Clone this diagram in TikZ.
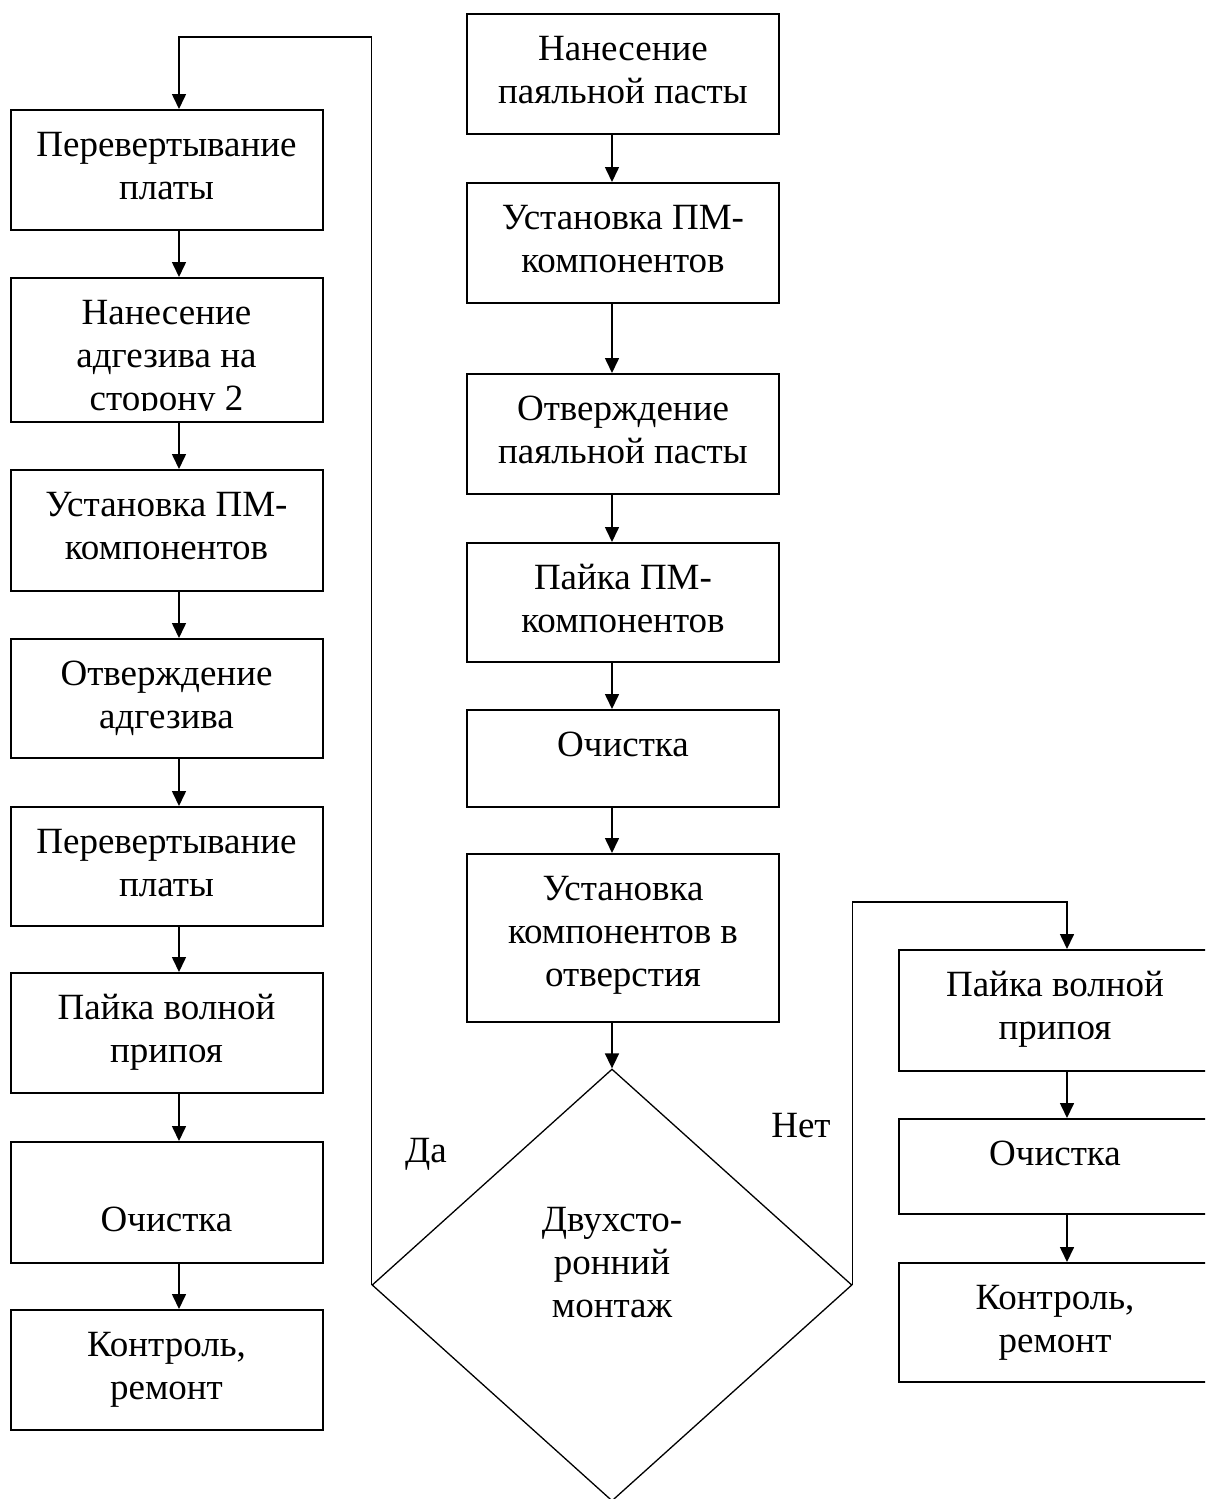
\documentclass[tikz,border=0pt]{standalone}
\usepackage{fontspec}
\setmainfont{Liberation Serif}
\usetikzlibrary{arrows.meta,shapes.geometric}

\newcommand{\blok}[2]{\parbox[c][#1pt][t]{312pt}{\centering\rule{0pt}{46pt}#2}}

\tikzset{
  blok/.style={draw, line width=2pt, inner sep=0pt, anchor=north},
  arr/.style={line width=1.6pt, -{Triangle[length=15pt,width=14pt]}},
  romb/.style={draw, diamond, line width=1.3pt, minimum width=480pt, minimum height=432pt, inner sep=0pt},
}

\begin{document}
\begin{tikzpicture}[x=1pt,y=-1pt,font=\fontsize{37}{43}\selectfont]
\useasboundingbox (0,0) rectangle (1205,1499);
\clip (0,0) rectangle (1205,1499);

\node[blok] (ln1) at (166.5,109) {\blok{120}{Перевертывание\\платы}};
\node[blok] (ln2) at (166.5,277) {\blok{144}{Нанесение\\адгезива на\\сторону 2}};
\fill[white] ([shift={(3,-12)}]ln2.south west) rectangle ([shift={(-3,-2)}]ln2.south east);
\node[blok] (ln3) at (166.5,469) {\blok{121}{Установка ПМ-\\компонентов}};
\node[blok] (ln4) at (166.5,638) {\blok{119}{Отверждение\\адгезива}};
\node[blok] (ln5) at (166.5,806) {\blok{119}{Перевертывание\\платы}};
\node[blok] (ln6) at (166.5,972) {\blok{120}{Пайка волной\\припоя}};
\node[blok] (ln7) at (166.5,1141) {\blok{121}{\\Очистка}};
\node[blok] (ln8) at (166.5,1309) {\blok{120}{Контроль,\\ремонт}};

\node[blok] (mn1) at (623,13) {\blok{120}{Нанесение\\паяльной пасты}};
\node[blok] (mn2) at (623,182) {\blok{120}{Установка ПМ-\\компонентов}};
\node[blok] (mn3) at (623,373) {\blok{120}{Отверждение\\паяльной пасты}};
\node[blok] (mn4) at (623,542) {\blok{119}{Пайка ПМ-\\компонентов}};
\node[blok] (mn5) at (623,709) {\blok{97}{Очистка}};
\node[blok] (mn6) at (623,853) {\blok{168}{Установка\\компонентов в\\отверстия}};

\node[romb] (dvuh) at (612,1285) {};
\node[align=center, anchor=north, inner sep=0pt] (dvuhtxt) at (612,1207) {Двухсто-\\ронний\\монтаж};

\node[blok] (rn1) at (1055,949) {\blok{121}{Пайка волной\\припоя}};
\node[blok] (rn2) at (1055,1118) {\blok{95}{Очистка}};
\node[blok] (rn3) at (1055,1262) {\blok{119}{Контроль,\\ремонт}};

\node[anchor=base] (da) at (426,1162) {Да};
\node[anchor=base] (net) at (801,1137) {Нет};

\coordinate (colL) at (179,0);
\coordinate (colM) at (612,0);
\coordinate (colR) at (1067,0);
\coordinate (daTop) at (179,37);
\coordinate (netTop) at (1067,902);

\foreach \a/\b in {ln1/ln2,ln2/ln3,ln3/ln4,ln4/ln5,ln5/ln6,ln6/ln7,ln7/ln8} {
	\draw[arr] (\a.south -| colL) -- (\b.north -| colL);
}
\foreach \a/\b in {mn1/mn2,mn2/mn3,mn3/mn4,mn4/mn5,mn5/mn6} {
	\draw[arr] (\a.south -| colM) -- (\b.north -| colM);
}
\draw[arr] (mn6.south -| colM) -- (dvuh.north);
\foreach \a/\b in {rn1/rn2,rn2/rn3} {
	\draw[arr] (\a.south -| colR) -- (\b.north -| colR);
}

\draw[arr] (dvuh.west) |- (daTop) -- (ln1.north -| daTop);
\draw[arr] (dvuh.east) |- (netTop) -- (rn1.north -| netTop);
\end{tikzpicture}
\end{document}
